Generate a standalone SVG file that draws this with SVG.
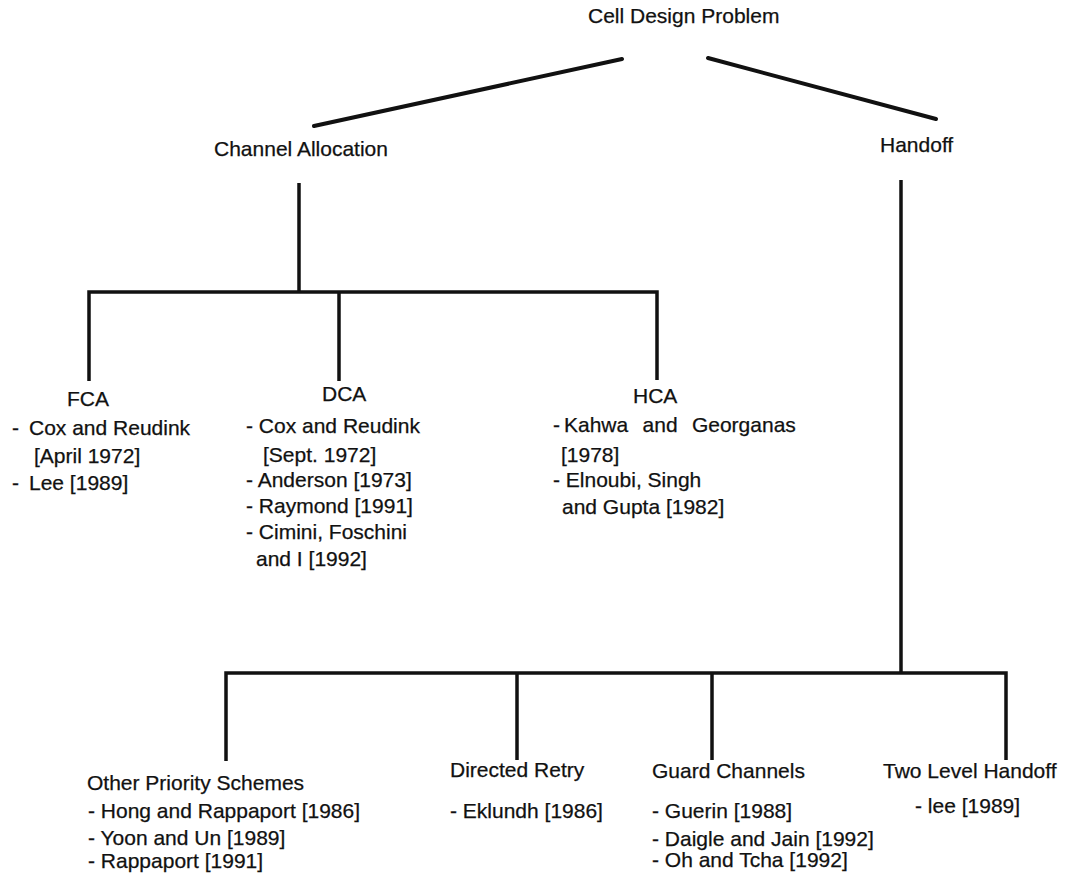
<svg xmlns="http://www.w3.org/2000/svg" width="1074" height="875" viewBox="0 0 1074 875">
  <style>
    text { font-family: "Liberation Sans", Arial, sans-serif; font-size: 21px; fill: #111; stroke: #111; stroke-width: 0.25; }
    .ln { stroke: #111; stroke-width: 3.5; fill: none; stroke-linecap: butt; stroke-linejoin: miter; }
    .diag { stroke: #111; stroke-width: 4; stroke-linecap: round; }
  </style>
  <rect width="1074" height="875" fill="#fff"/>

  <!-- tree connectors -->
  <g id="connectors">
    <line class="diag" x1="622" y1="59" x2="314" y2="126"/>
    <line class="diag" x1="708" y1="58" x2="936" y2="119"/>
    <!-- channel allocation branch -->
    <line class="ln" x1="299" y1="183" x2="299" y2="292"/>
    <polyline class="ln" points="89,381 89,292 657,292 657,380"/>
    <line class="ln" x1="339" y1="292" x2="339" y2="381"/>
    <!-- handoff branch -->
    <line class="ln" x1="901" y1="180" x2="901" y2="673"/>
    <polyline class="ln" points="226,761 226,673 1006,673 1006,760"/>
    <line class="ln" x1="517" y1="673" x2="517" y2="760"/>
    <line class="ln" x1="712" y1="673" x2="712" y2="760"/>
  </g>

  <g id="root"><text x="588" y="23">Cell Design Problem</text></g>
  <g id="channel-allocation"><text x="214" y="156">Channel Allocation</text></g>
  <g id="handoff"><text x="880" y="152">Handoff</text></g>

  <g id="fca">
    <text x="67" y="406">FCA</text>
    <text y="435"><tspan x="12">-</tspan><tspan x="29">Cox and Reudink</tspan></text>
    <text x="34" y="463">[April 1972]</text>
    <text y="490"><tspan x="12">-</tspan><tspan x="29">Lee [1989]</tspan></text>
  </g>

  <g id="dca">
    <text x="322" y="401">DCA</text>
    <text x="246" y="433">- Cox and Reudink</text>
    <text x="263" y="462">[Sept. 1972]</text>
    <text x="246" y="487">- Anderson [1973]</text>
    <text x="246" y="513">- Raymond [1991]</text>
    <text x="246" y="539">- Cimini, Foschini</text>
    <text x="256" y="566">and I [1992]</text>
  </g>

  <g id="hca">
    <text x="633" y="403">HCA</text>
    <text y="432"><tspan x="553">-</tspan><tspan x="564" word-spacing="8.5">Kahwa and Georganas</tspan></text>
    <text x="561" y="462">[1978]</text>
    <text x="553" y="487">- Elnoubi, Singh</text>
    <text x="562" y="514">and Gupta [1982]</text>
  </g>

  <g id="other-priority">
    <text x="87" y="790">Other Priority Schemes</text>
    <text x="88" y="818">- Hong and Rappaport [1986]</text>
    <text x="88" y="845">- Yoon and Un [1989]</text>
    <text x="88" y="868">- Rappaport [1991]</text>
  </g>

  <g id="directed-retry">
    <text x="450" y="777">Directed Retry</text>
    <text x="450" y="818">- Eklundh [1986]</text>
  </g>

  <g id="guard-channels">
    <text x="652" y="778">Guard Channels</text>
    <text x="652" y="818">- Guerin [1988]</text>
    <text x="652" y="846">- Daigle and Jain [1992]</text>
    <text x="652" y="867">- Oh and Tcha [1992]</text>
  </g>

  <g id="two-level-handoff">
    <text x="883" y="778">Two Level Handoff</text>
    <text x="915" y="813">- lee [1989]</text>
  </g>
</svg>
